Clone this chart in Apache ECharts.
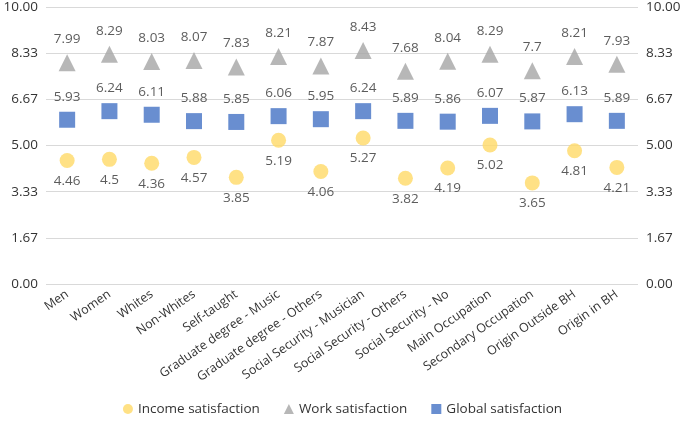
<!DOCTYPE html>
<html><head><meta charset="utf-8">
<script src="https://cdn.jsdelivr.net/npm/echarts@6/dist/echarts.min.js"></script>
<style>html,body{margin:0;padding:0;background:#fff}#c{width:685px;height:424px}</style>
</head><body><div id="c"></div>
<script>
const categories = ["Men","Women","Whites","Non-Whites","Self-taught","Graduate degree - Music","Graduate degree - Others","Social Security - Musician","Social Security - Others","Social Security - No","Main Occupation","Secondary Occupation","Origin Outside BH","Origin in BH"];
const incomeSatisfaction = [4.46,4.5,4.36,4.57,3.85,5.19,4.06,5.27,3.82,4.19,5.02,3.65,4.81,4.21];
const workSatisfaction = [7.99,8.29,8.03,8.07,7.83,8.21,7.87,8.43,7.68,8.04,8.29,7.7,8.21,7.93];
const globalSatisfaction = [5.93,6.24,6.11,5.88,5.85,6.06,5.95,6.24,5.89,5.86,6.07,5.87,6.13,5.89];
const FONT = '"Open Sans", "Liberation Sans", sans-serif';
const TXT = '#333333';
const chart = echarts.init(document.getElementById('c'));
const yAxisBase = {
  type:'value', min:0, max:10, interval:10/6,
  axisLine:{show:false}, axisTick:{show:false},
  axisLabel:{formatter:v=>v.toFixed(2), color:TXT, fontFamily:FONT, fontSize:13.5, margin:8},
};
chart.setOption({
  animation:false,
  textStyle:{fontFamily:FONT},
  grid:{left:46, right:47, top:6, bottom:140, containLabel:false},
  xAxis:{type:'category', data:categories,
    axisLine:{show:false}, axisTick:{show:false},
    axisLabel:{rotate:35, interval:0, color:TXT, fontFamily:FONT, fontSize:12.5, margin:9}},
  yAxis:[Object.assign({}, yAxisBase, {position:'left', splitLine:{lineStyle:{color:'#D9D9D9', width:1}}}),
         Object.assign({}, yAxisBase, {position:'right', splitLine:{show:false}})],
  legend:{bottom:3, left:'center', itemGap:24, itemWidth:10, itemHeight:10,
    textStyle:{color:TXT, fontFamily:FONT, fontSize:13.5},
    data:['Income satisfaction','Work satisfaction','Global satisfaction']},
  series:[
    {name:'Income satisfaction', type:'scatter', data:incomeSatisfaction, symbol:'circle', symbolSize:15,
     itemStyle:{color:'#FFD966'},
     label:{show:true, position:'bottom', distance:6, color:TXT, fontSize:13.5, fontFamily:FONT}},
    {name:'Work satisfaction', type:'scatter', data:workSatisfaction, symbol:'triangle', symbolSize:17,
     itemStyle:{color:'#A5A5A5'},
     label:{show:true, position:'top', distance:8, color:TXT, fontSize:13.5, fontFamily:FONT}},
    {name:'Global satisfaction', type:'scatter', data:globalSatisfaction, symbol:'rect', symbolSize:16,
     itemStyle:{color:'#4472C4'},
     label:{show:true, position:'top', distance:8, color:TXT, fontSize:13.5, fontFamily:FONT}}
  ]
});
</script></body></html>
